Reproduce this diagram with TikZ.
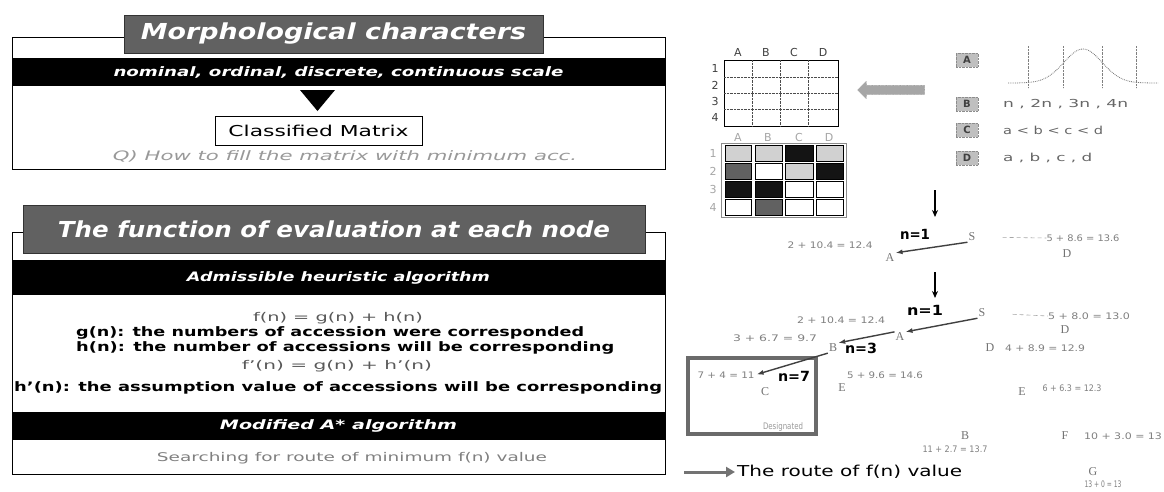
\documentclass[tikz,border=0pt]{standalone}
\usepackage{fontspec}
\setmainfont{DejaVu Sans}
\newfontfamily\letterfont{Liberation Serif}
\usetikzlibrary{shapes.arrows,arrows.meta}
\newcommand{\fitw}[2]{\resizebox{#1pt}{\height}{#2}}
\colorlet{cL}{black!18}
\colorlet{cM}{black!62}
\colorlet{cK}{black!92}
\begin{document}
\begin{tikzpicture}[x=1pt,y=-1pt,
  panel/.style={draw=black, line width=0.9pt},
  banner/.style={fill=black!62, draw=black!80, line width=0.6pt, text=white, inner sep=0pt,
    font=\fontsize{22}{24}\selectfont\bfseries\itshape},
  blackbar/.style={fill=black, text=white, inner sep=0pt, minimum width=653pt,
    font=\fontsize{13}{15}\selectfont\bfseries\itshape},
  bodyb/.style={inner sep=0pt, font=\fontsize{13}{15}\selectfont\bfseries},
  formula/.style={inner sep=0pt, text=black!65, font=\fontsize{12}{14}\selectfont},
  mlabel/.style={inner sep=0pt, text=black!75, font=\fontsize{11}{12}\selectfont},
  mlabelb/.style={inner sep=0pt, text=black!35, font=\fontsize{11}{12}\selectfont},
  badge/.style={fill=black!25, draw=black!45, densely dotted, minimum width=22pt, minimum height=14pt,
    inner sep=0pt, text=black!75, font=\fontsize{10}{12}\selectfont\bfseries},
  legtext/.style={inner sep=0pt, anchor=west, text=black!60, font=\fontsize{11}{12}\selectfont},
  tlet/.style={inner sep=1pt, text=black!55, font=\letterfont\fontsize{12}{12}\selectfont},
  tval/.style={inner sep=0pt, text=black!50, font=\fontsize{9}{10}\selectfont},
  nlab/.style={inner sep=0pt, font=\fontsize{14}{14}\selectfont\bfseries},
  route/.style={-{Latex[length=7pt,width=5pt]}, line width=1.4pt, black!75},
  faint/.style={black!35, dash pattern=on 4pt off 3pt, line width=0.6pt},
  downarrow/.style={-{Stealth[length=7pt,width=6pt]}, line width=1.1pt}
]
\useasboundingbox (0,0) rectangle (1164,491);
\fill[white] (0,0) rectangle (1164,491);

% ---------- top-left panel
\draw[panel] (12,37) rectangle (665,169);
\node[banner, minimum width=419pt, minimum height=38pt] (title1) at (333.5,34)
  {\fitw{385}{Morphological characters}};
\node[blackbar, minimum height=28pt] (scale) at (338.5,72)
  {\fitw{450}{nominal, ordinal, discrete, continuous scale}};
\fill (300,90) -- (335,90) -- (317.5,111) -- cycle;
\node[draw, line width=0.9pt, minimum width=207pt, minimum height=29pt, inner sep=0pt,
  font=\fontsize{15}{17}\selectfont] (cmat) at (318.5,130.5) {\fitw{180}{Classified Matrix}};
\node[inner sep=0pt, text=black!40, font=\fontsize{13}{15}\selectfont\itshape] (q) at (345,156)
  {\fitw{464}{Q) How to fill the matrix with minimum acc.}};

% ---------- bottom-left panel
\draw[panel] (12,232) rectangle (665,474);
\node[banner, minimum width=622pt, minimum height=48pt] (title2) at (334,229)
  {\fitw{552}{The function of evaluation at each node}};
\node[blackbar, minimum height=35pt] (adm) at (338.5,277.5)
  {\fitw{303}{Admissible heuristic algorithm}};
\node[formula] (f1) at (338,318) {\fitw{170}{f(n) = g(n) + h(n)}};
\node[bodyb, anchor=west] (g1) at (76,333) {\fitw{508}{g(n): the numbers of accession were corresponded}};
\node[bodyb, anchor=west] (h1) at (76,348) {\fitw{538}{h(n): the number of accessions will be corresponding}};
\node[formula] (f2) at (337,366) {\fitw{190}{f'(n) = g(n) + h'(n)}};
\node[bodyb, anchor=west] (h2) at (14,388)
  {\fitw{648}{h'(n): the assumption value of accessions will be corresponding}};
\node[blackbar, minimum height=28pt] (mod) at (338.5,426) {\fitw{237}{Modified A* algorithm}};
\node[formula, text=black!50] (srch) at (352,458) {\fitw{390}{Searching for route of minimum f(n) value}};

% ---------- top matrix
\draw[line width=0.9pt] (724,60) rectangle (838,126);
\foreach \x in {752,780,808} \draw[densely dotted, black!70] (\x,60) -- (\x,126);
\foreach \y in {77,93,109} \draw[densely dotted, black!70] (724,\y) -- (838,\y);
\foreach \l/\x in {A/738,B/766,C/794,D/823} \node[mlabel] (top\l) at (\x,52) {\l};
\foreach \r/\y in {1/68,2/85,3/101,4/117} \node[mlabel] (topr\r) at (715,\y) {\r};

% ---------- bottom (classified) matrix
\draw[black!45, line width=0.8pt] (721,143) rectangle (846,217);
\foreach \xa/\xb/\ya/\yb/\cc in {
 725/751/145/161/cL, 755/782/145/161/cL, 785/813/145/161/cK, 816/843/145/161/cL,
 725/751/163/179/cM, 755/782/163/179/white, 785/813/163/179/cL, 816/843/163/179/cK,
 725/751/181/197/cK, 755/782/181/197/cK, 785/813/181/197/white, 816/843/181/197/white,
 725/751/199/215/white, 755/782/199/215/cM, 785/813/199/215/white, 816/843/199/215/white}
 \draw[fill=\cc, line width=0.8pt] (\xa,\ya) rectangle (\xb,\yb);
\foreach \l/\x in {A/738,B/768,C/799,D/829} \node[mlabelb] (bot\l) at (\x,137) {\l};
\foreach \r/\y in {1/153,2/171,3/189,4/207} \node[mlabelb] (botr\r) at (713,\y) {\r};

% ---------- hatched arrow
\node[single arrow, shape border rotate=180, fill=black!35, draw=black!55, densely dotted,
  minimum height=67pt, inner sep=4.5pt, single arrow head extend=4pt]
  (harrow) at (893.5,90) {};

% ---------- legend
\node[badge] (bA) at (967,60) {A};
\node[badge] (bB) at (967,104) {B};
\node[badge] (bC) at (967,130) {C};
\node[badge] (bD) at (967,158) {D};
\draw[densely dotted, black!55, line width=0.8pt] plot[domain=1008:1158, samples=80, smooth]
  (\x,{83-34*exp(-((\x-1083)/27)^2)});
\foreach \x in {1028,1063,1102,1136} \draw[densely dotted, black!50] (\x,46) -- (\x,88);
\node[legtext] (lB) at (1003,104) {\fitw{125}{n , 2n , 3n , 4n}};
\node[legtext] (lC) at (1003,130) {\fitw{100}{a < b < c < d}};
\node[legtext] (lD) at (1003,158) {\fitw{89}{a , b , c , d}};

% ---------- down arrows
\coordinate (d1s) at (935,190); \coordinate (d1e) at (935,217);
\coordinate (d2s) at (935,272); \coordinate (d2e) at (935,298);
\draw[downarrow] (d1s) -- (d1e);
\draw[downarrow] (d2s) -- (d2e);

% ---------- tree 1
\node[tlet] (S1) at (972,237) {S};
\node[tlet] (A1) at (890,258) {A};
\node[tlet] (D1) at (1067,254) {D};
\node[nlab] (n11) at (915,234) {\fitw{30}{n=1}};
\node[tval] (v1a) at (830,245) {\fitw{85}{2 + 10.4 = 12.4}};
\node[tval] (v1d) at (1083,238) {\fitw{73}{5 + 8.6 = 13.6}};
\draw[route] (S1.south west) -- (A1.north east);
\draw[faint, shorten <=26pt] (S1.east) -- (v1d.west);

% ---------- tree 2
\node[tlet] (S2) at (982,313) {S};
\node[tlet] (A2) at (900,337) {A};
\node[tlet] (D2) at (1065,330) {D};
\node[tlet] (B2) at (833,348) {B};
\node[tlet] (D3) at (990,348) {D};
\node[nlab] (n21) at (925,310) {\fitw{36}{n=1}};
\node[nlab] (n23) at (861,348) {\fitw{32}{n=3}};
\node[tval] (v2a) at (841,320) {\fitw{88}{2 + 10.4 = 12.4}};
\node[tval] (v2d) at (1089,316) {\fitw{82}{5 + 8.0 = 13.0}};
\node[tval] (v2b) at (775,338) {\fitw{84}{3 + 6.7 = 9.7}};
\node[tval] (v3d) at (1045,348) {\fitw{80}{4 + 8.9 = 12.9}};
\draw[route] (S2.south west) -- (A2.north east);
\draw[route] (A2.north west) -- (B2.north east);
\draw[faint, shorten <=26pt] (S2.east) -- (v2d.west);

% designated box
\draw[line width=4pt, black!58] (688,358) rectangle (816,434);
\node[tlet] (C) at (765,392) {C};
\node[tval] (v7) at (726,375) {\fitw{57}{7 + 4 = 11}};
\node[nlab] (n27) at (794,376) {\fitw{32}{n=7}};
\node[tval, text=black!40] (desig) at (783,427) {\fitw{40}{Designated}};
\draw[route, shorten >=2pt] (B2.south west) -- (v7.east);

% other nodes
\node[tlet] (E1) at (842,388) {E};
\node[tval] (v1e) at (885,375) {\fitw{76}{5 + 9.6 = 14.6}};
\node[tlet] (E2) at (1022,392) {E};
\node[tval] (v2e) at (1072,388) {\fitw{59}{6 + 6.3 = 12.3}};
\node[tlet] (B3) at (965,436) {B};
\node[tval] (v3b) at (955,449) {\fitw{65}{11 + 2.7 = 13.7}};
\node[tlet] (F) at (1065,436) {F};
\node[tval] (vf) at (1123,436) {\fitw{78}{10 + 3.0 = 13}};
\node[tlet] (G) at (1093,472) {G};
\node[tval] (vg) at (1103,484) {\fitw{37}{13 + 0 = 13}};

% route legend
\coordinate (rl0) at (684,472); \coordinate (rl1) at (735,472);
\draw[line width=3pt, black!55, -{Triangle[length=9pt,width=10pt]}] (rl0) -- (rl1);
\node[anchor=west, inner sep=0pt, font=\fontsize{15}{16}\selectfont] (routetxt) at (737,472)
  {\fitw{225}{The route of f(n) value}};
\end{tikzpicture}
\end{document}
